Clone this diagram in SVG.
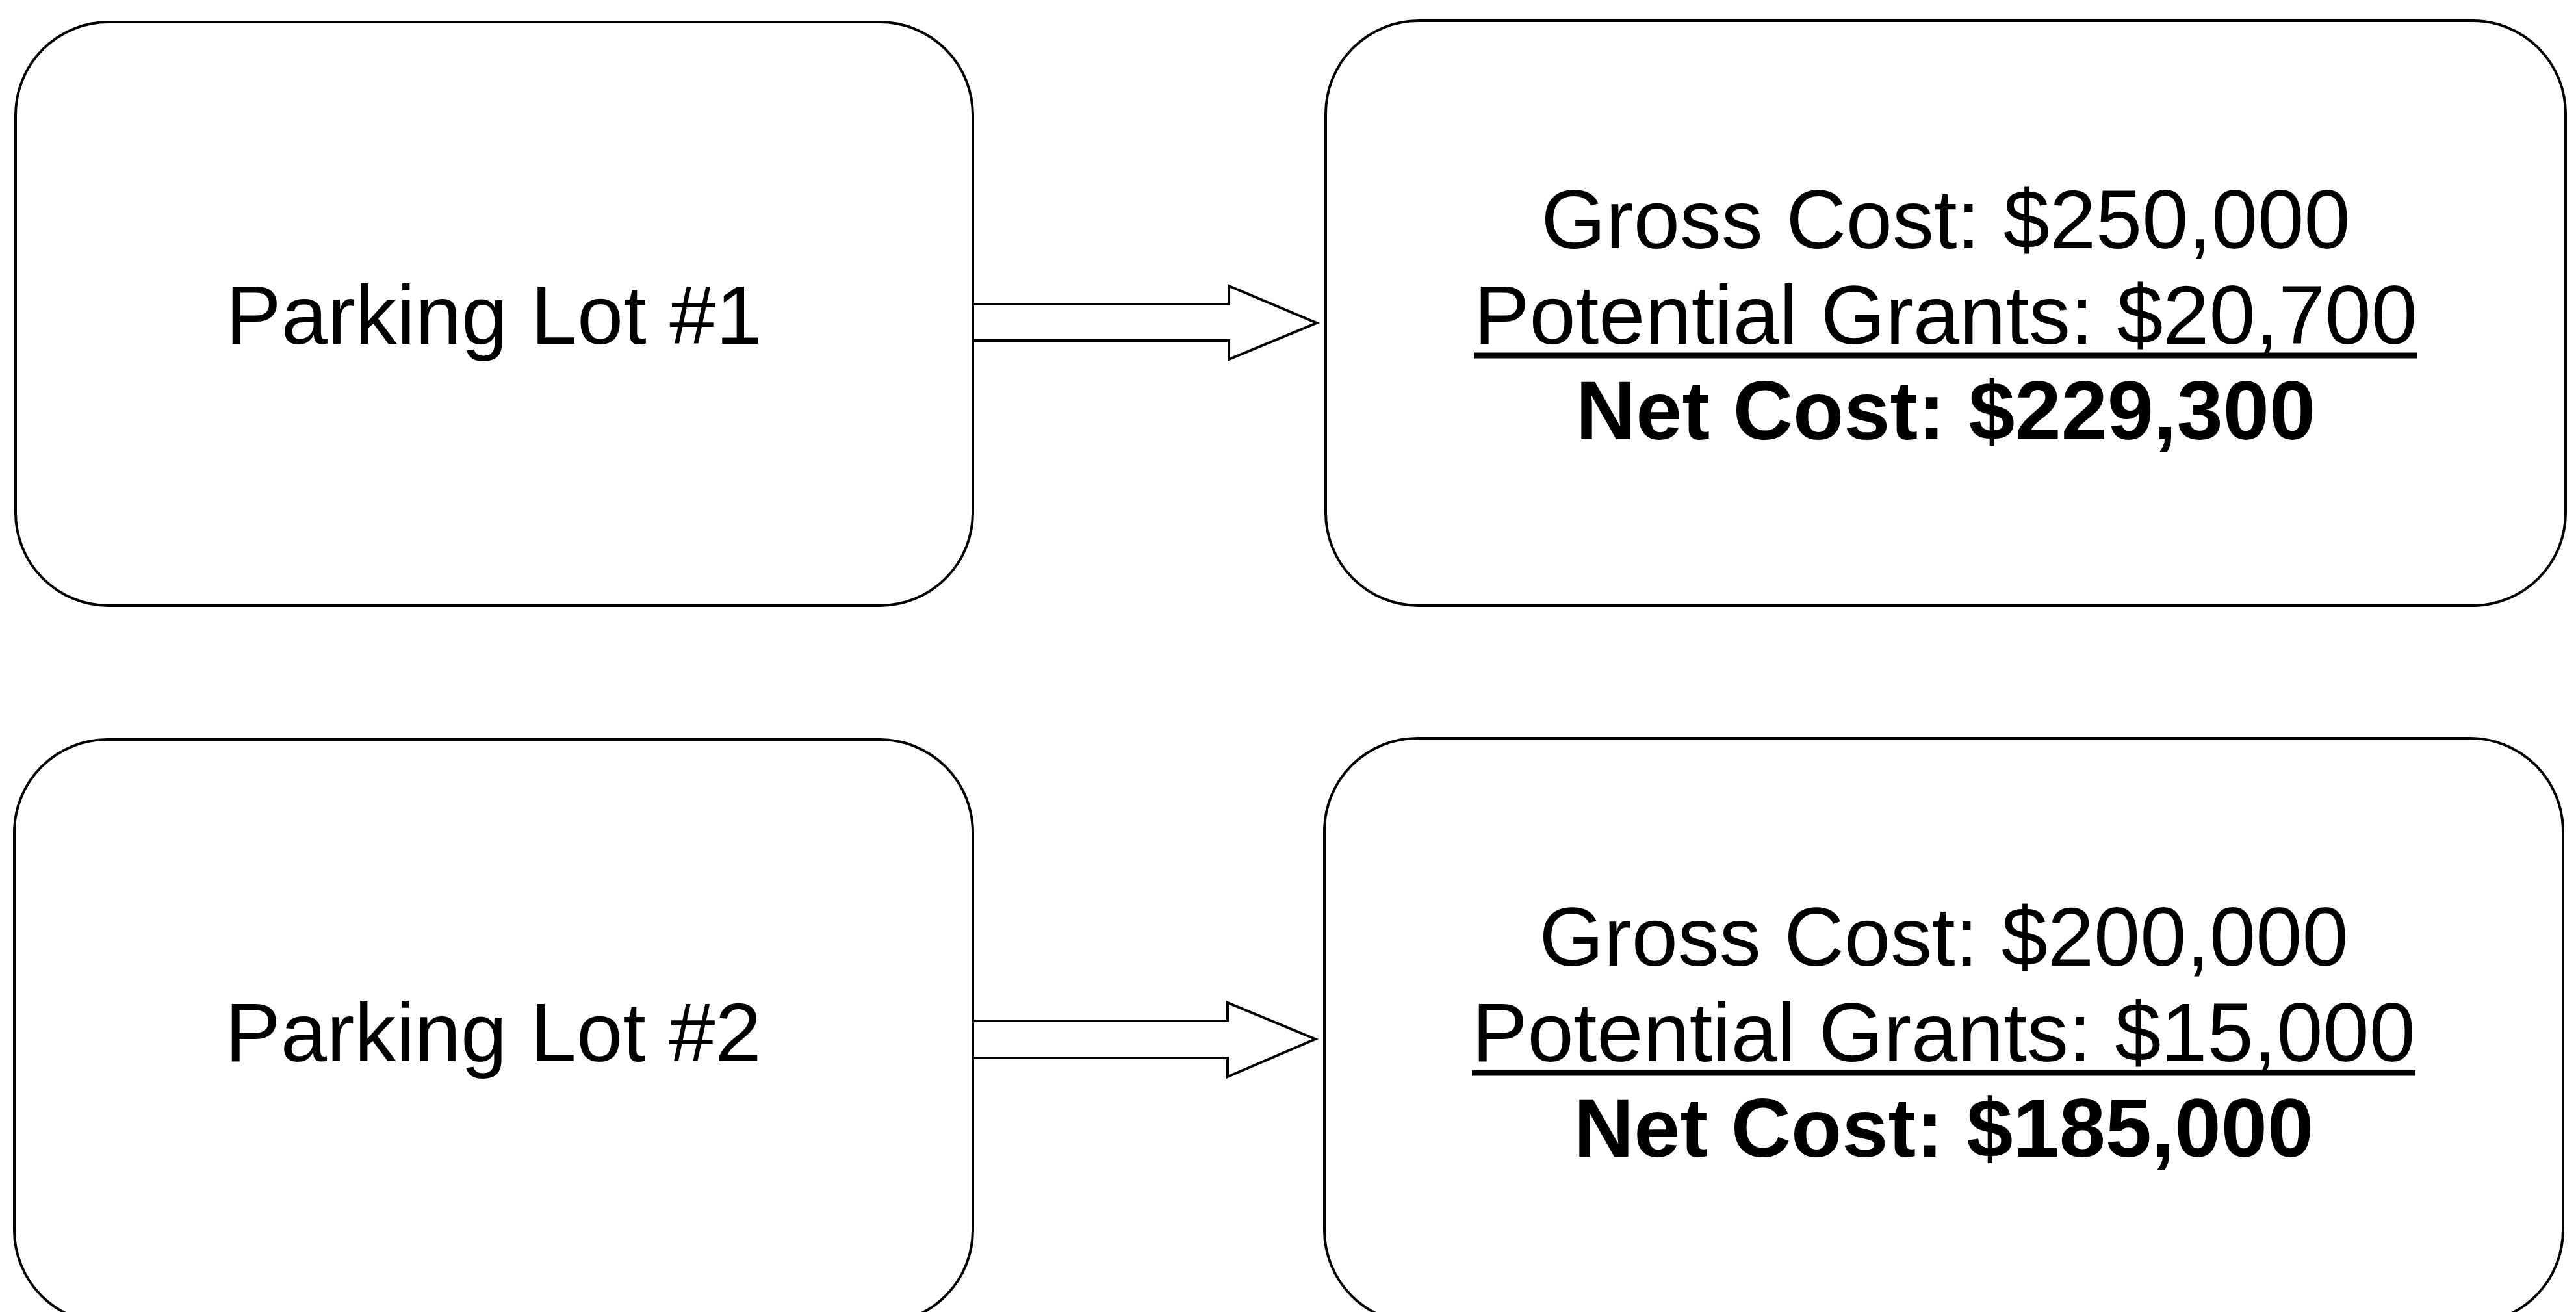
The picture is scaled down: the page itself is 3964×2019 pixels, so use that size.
<svg xmlns="http://www.w3.org/2000/svg" width="3964" height="2019" viewBox="0 0 3964 2019">
<style>
.box{fill:#ffffff;stroke:#000000;stroke-width:4}
.arrow{fill:#ffffff;stroke:#000000;stroke-width:4;stroke-linejoin:miter}
.t{font-family:"Liberation Sans",Arial,sans-serif;font-size:128px;fill:#000000;text-anchor:middle}
.ul{stroke:#000000;stroke-width:9}
.b{font-weight:bold}
</style>
<rect width="3964" height="2019" fill="#ffffff"/>
<g id="connectors">
<polygon class="arrow" points="1497,468 1891,468 1891,440 2026,497 1891,553 1891,524 1497,524"/>
<polygon class="arrow" points="1497,1571 1889,1571 1889,1543 2024,1599 1889,1657 1889,1628 1497,1628"/>
</g>
<g id="lot1">
<rect class="box" x="24" y="34" width="1473" height="898" rx="143" ry="143"/>
<text class="t" x="760" y="529">Parking Lot #1</text>
</g>
<g id="cost1">
<rect class="box" x="2040" y="32" width="1908" height="900" rx="143" ry="143"/>
<text class="t" x="2994" y="382">Gross Cost: $250,000</text>
<text class="t" x="2994" y="529">Potential Grants: $20,700</text>
<line class="ul" x1="2268" y1="547" x2="3720" y2="547"/>
<text class="t b" x="2994" y="676">Net Cost: $229,300</text>
</g>
<g id="lot2">
<rect class="box" x="22" y="1138" width="1475" height="898" rx="143" ry="143"/>
<text class="t" x="759" y="1633">Parking Lot #2</text>
</g>
<g id="cost2">
<rect class="box" x="2038" y="1136" width="1906" height="900" rx="143" ry="143"/>
<text class="t" x="2991" y="1486">Gross Cost: $200,000</text>
<text class="t" x="2991" y="1633">Potential Grants: $15,000</text>
<line class="ul" x1="2265" y1="1651" x2="3717" y2="1651"/>
<text class="t b" x="2991" y="1780">Net Cost: $185,000</text>
</g>
</svg>
